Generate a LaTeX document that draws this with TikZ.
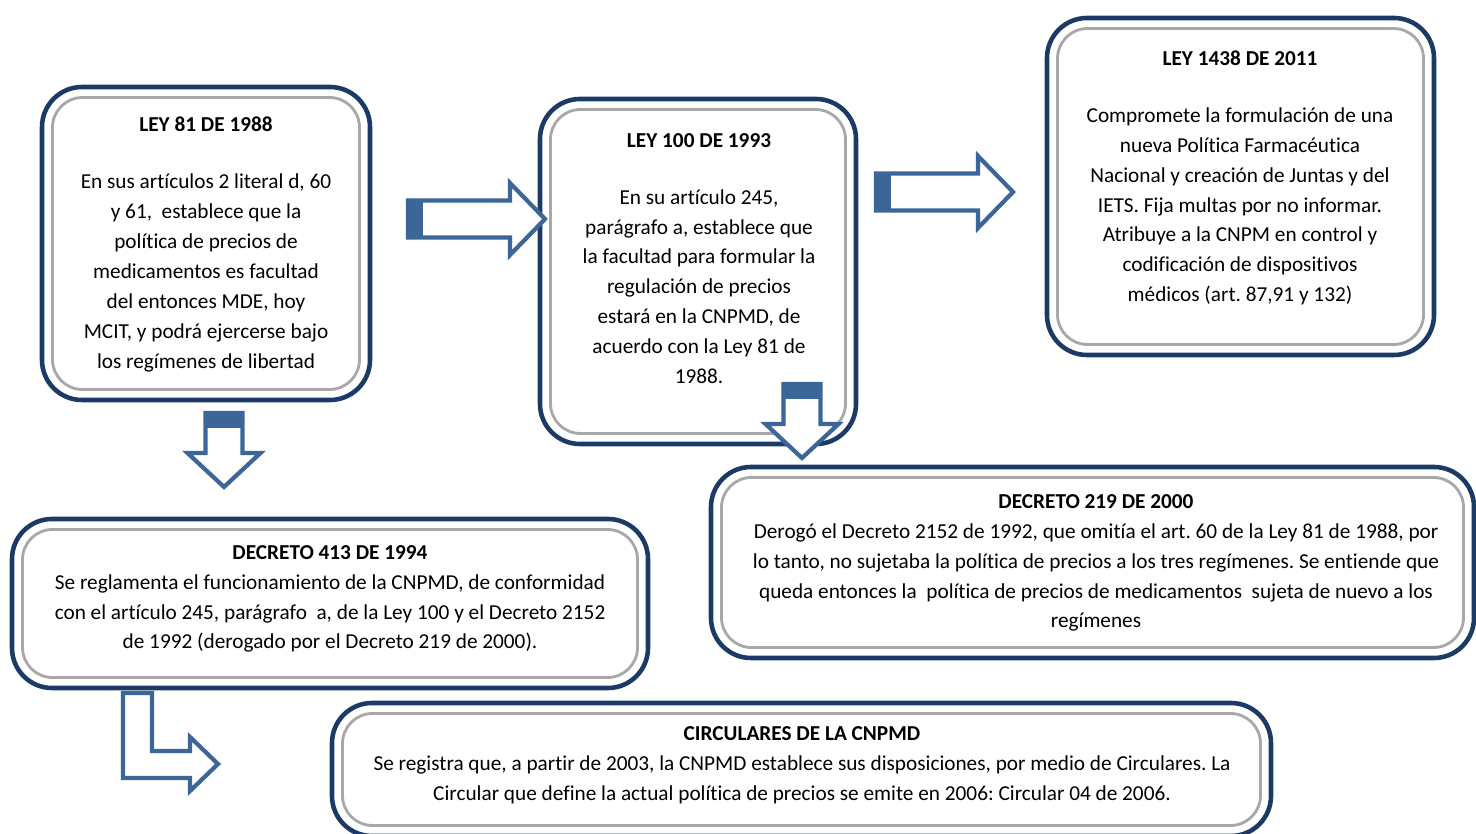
\documentclass[tikz,border=0pt]{standalone}
\usepackage{fontspec}
\setmainfont[Ligatures=CommonOff]{Carlito}
\usetikzlibrary{calc,positioning}
\definecolor{marino}{HTML}{1B3A66}
\definecolor{azul}{HTML}{3C6598}
\definecolor{bisel}{HTML}{A8A8A8}
\newcommand{\flechader}[2]{\draw[azul,line width=2.4pt,fill=white] (#1-2.74,#2-0.37)--(#1-0.7,#2-0.37)--(#1-0.7,#2-0.72)--(#1,#2)--(#1-0.7,#2+0.72)--(#1-0.7,#2+0.37)--(#1-2.74,#2+0.37)--cycle;
\fill[azul] (#1-2.74,#2-0.37) rectangle (#1-2.44,#2+0.37);}
\newcommand{\flechaabajo}[2]{\draw[azul,line width=2.4pt,fill=white] (#1-0.37,#2+1.48)--(#1-0.37,#2+0.68)--(#1-0.73,#2+0.68)--(#1,#2)--(#1+0.73,#2+0.68)--(#1+0.37,#2+0.68)--(#1+0.37,#2+1.48)--cycle;
\fill[azul] (#1-0.37,#2+1.48) rectangle (#1+0.37,#2+1.18);}
\frenchspacing

\begin{document}
\begin{tikzpicture}[ficha/.style={draw=marino,line width=2.6pt,rounded corners=0.8cm,fill=white,inner sep=0pt,outer sep=0pt},
  texto/.style={align=center,font=\fontsize{12.1}{17}\selectfont\frenchspacing}]
\useasboundingbox (0,0) rectangle (29.52,16.68);
% cajas
\node[ficha,minimum width=6.56cm,minimum height=6.26cm] (ley81) at (4.12,11.81){};
\node[ficha,minimum width=6.32cm,minimum height=6.90cm] (ley100) at (13.96,11.25){};
\node[ficha,minimum width=7.74cm,minimum height=6.74cm] (ley1438) at (24.81,12.95){};
\node[ficha,minimum width=12.72cm,minimum height=3.38cm] (dec413) at (6.60,4.61){};
\node[ficha,minimum width=15.26cm,minimum height=3.82cm] (dec219) at (21.85,5.43){};
\node[ficha,minimum width=18.78cm,minimum height=2.66cm] (circ) at (16.03,1.29){};
\foreach \n in {ley81,ley100,ley1438,dec413,dec219,circ}
  \draw[bisel,line width=1.6pt,rounded corners=0.6cm] ([shift={(0.21,0.21)}]\n.south west) rectangle ([shift={(-0.21,-0.21)}]\n.north east);
% textos
\node[texto] (t81) at (4.12,11.79){\textbf{LEY 81 DE 1988}\\[0.54cm]En sus artículos 2 literal d, 60\\y 61,\ \ establece que la\\política de precios de\\medicamentos es facultad\\del entonces MDE, hoy\\MCIT, y podrá ejercerse bajo\\los regímenes de libertad};
\node[texto] (t100) at (13.98,11.51){\textbf{LEY 100 DE 1993}\\[0.54cm]En su artículo 245,\\parágrafo a, establece que\\la facultad para formular la\\regulación de precios\\estará en la CNPMD, de\\acuerdo con la Ley 81 de\\1988.};
\node[texto] (t1438) at (24.80,13.12){\textbf{LEY 1438 DE 2011}\\[0.54cm]Compromete la formulación de una\\nueva Política Farmacéutica\\Nacional y creación de Juntas y del\\IETS. Fija multas por no informar.\\Atribuye a la CNPM en control y\\codificación de dispositivos\\médicos (art. 87,91 y 132)};
\node[texto] (t413) at (6.60,4.70){\textbf{DECRETO 413 DE 1994}\\Se reglamenta el funcionamiento de la CNPMD, de conformidad\\con el artículo 245, parágrafo\ \ a, de la Ley 100 y el Decreto 2152\\de 1992 (derogado por el Decreto 219 de 2000).};
\node[texto] (t219) at (21.92,5.42){\textbf{DECRETO 219 DE 2000}\\Derogó el Decreto 2152 de 1992, que omitía el art. 60 de la Ley 81 de 1988, por\\lo tanto, no sujetaba la política de precios a los tres regímenes. Se entiende que\\queda entonces la\ \ política de precios de medicamentos\ \ sujeta de nuevo a los\\regímenes};
\node[texto] (tcirc) at (16.04,1.38){\textbf{CIRCULARES DE LA CNPMD}\\Se registra que, a partir de 2003, la CNPMD establece sus disposiciones, por medio de Circulares. La\\Circular que define la actual política de precios se emite en 2006: Circular 04 de 2006.};
% flechas
\flechader{10.90}{12.30}\flechader{20.26}{12.84}
\flechaabajo{4.48}{6.94}\flechaabajo{16.04}{7.52}
\draw[azul,line width=2.4pt,fill=white] (2.46,2.82)--(3.04,2.82)--(3.04,1.66)--(3.80,1.66)--(3.80,1.94)--(4.36,1.40)--(3.80,0.86)--(3.80,1.12)--(2.46,1.12)--cycle;
\end{tikzpicture}
\end{document}
